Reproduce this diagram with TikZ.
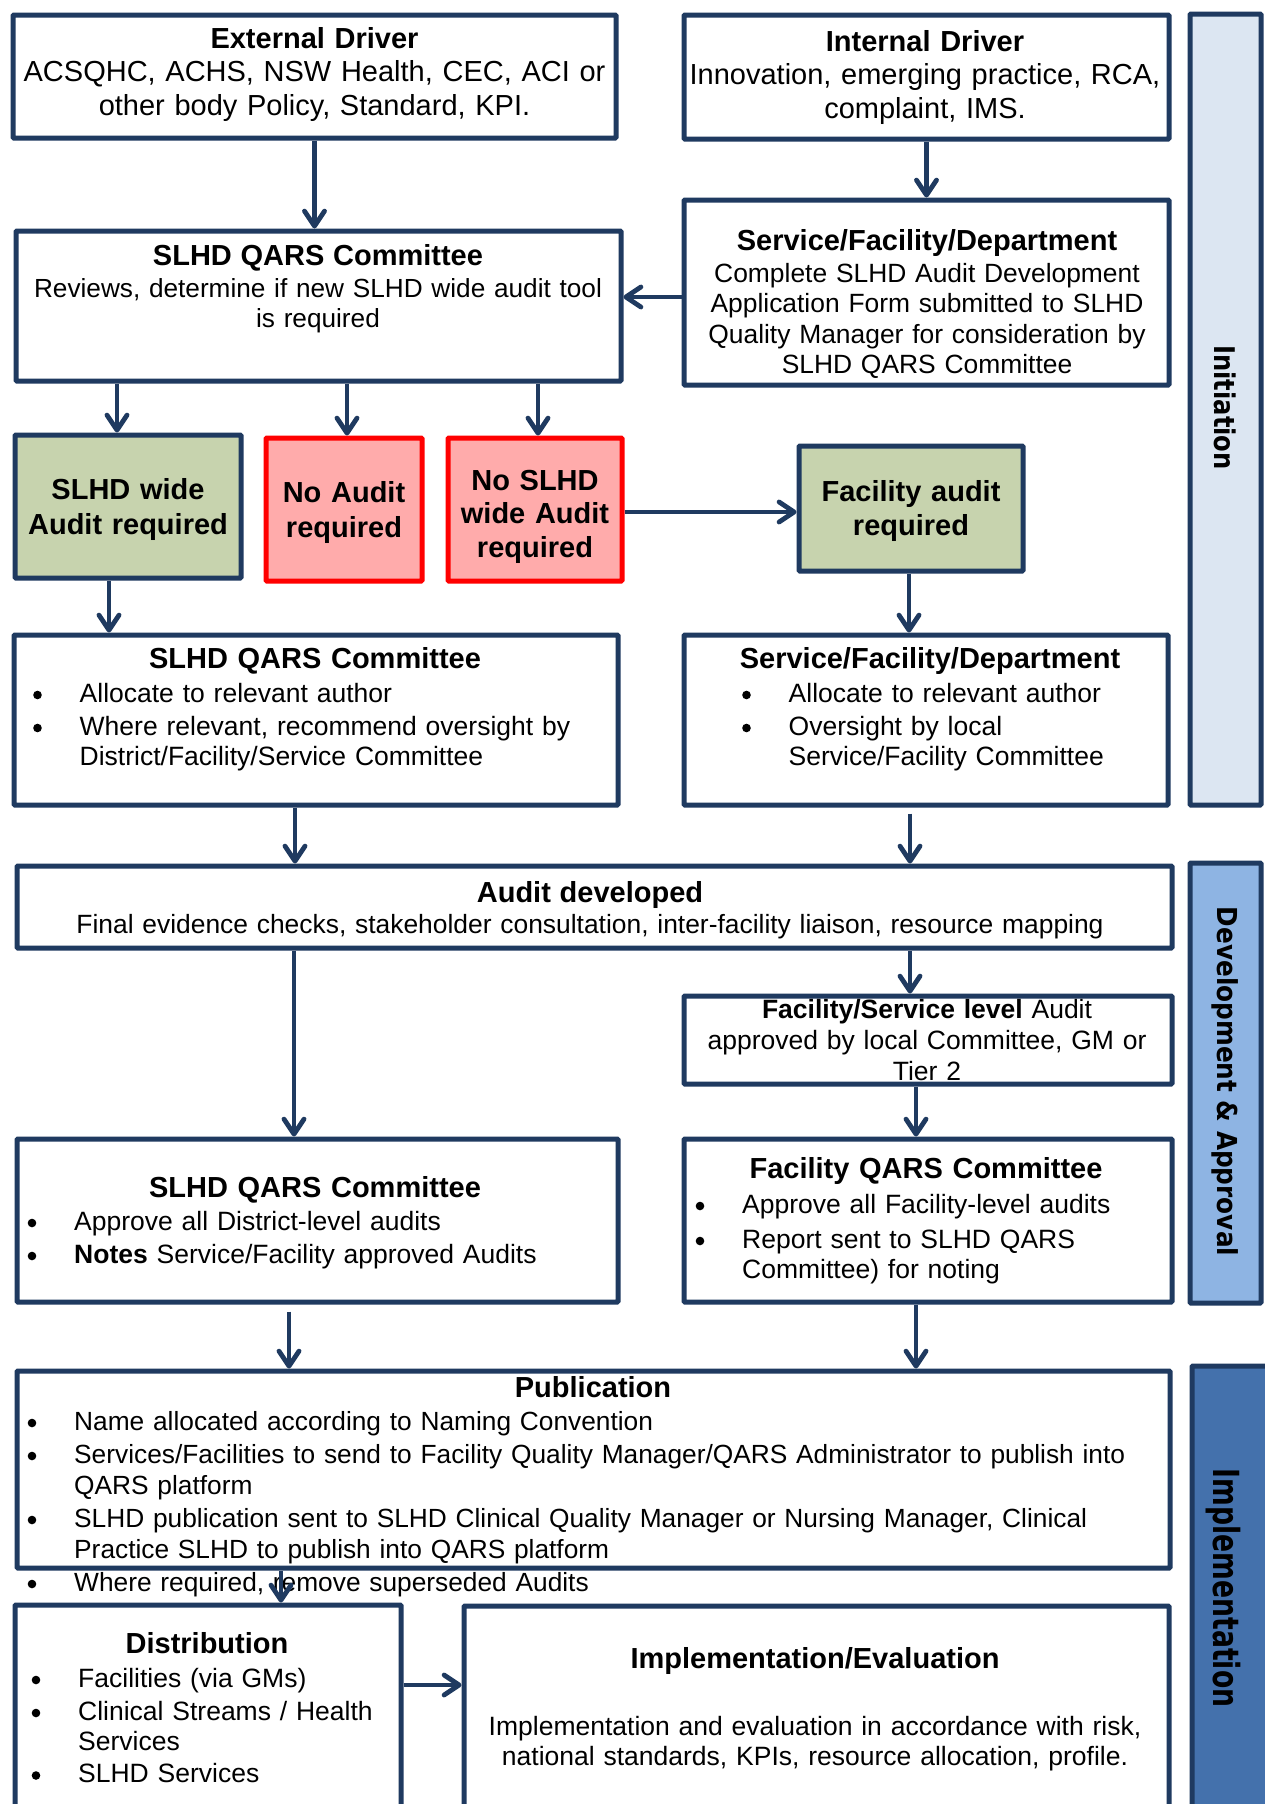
\documentclass[tikz,border=0pt]{standalone}
\usepackage{fontspec}
\setmainfont{Liberation Sans}
\newfontfamily\bandfont{DejaVu Sans}
\usepackage{graphicx}
\usetikzlibrary{arrows.meta,calc}
\definecolor{navy}{HTML}{1F3A60}
\definecolor{greenfill}{HTML}{C7D3AE}
\definecolor{redfill}{HTML}{FFABAB}
\definecolor{redline}{HTML}{FF0000}
\definecolor{bandA}{HTML}{DCE6F2}
\definecolor{bandB}{HTML}{8EB4E3}
\definecolor{bandC}{HTML}{4471AC}
\newcommand{\myfs}[2]{\fontsize{#1}{#2}\selectfont}
\newcommand{\dotb}{\tikz[baseline=0pt]\fill[black] (0pt,7pt) circle (4.3pt);}
\newcommand{\bulx}{\makebox[46.5pt][l]{\dotb}}
\newcommand{\indx}{\hspace*{46.5pt}}
\newcommand{\mkbox}[6][]{%
  \pgfmathsetmacro\bw{#5-#3}\pgfmathsetmacro\bh{#6-#4}%
  \node[box,#1,minimum width=\bw pt,minimum height=\bh pt] (#2) at ({(#3+#5)/2},{(#4+#6)/2}) {};}
\tikzset{
  box/.style={draw=navy, line width=5pt, fill=white, inner sep=0pt, rounded corners=1pt},
  greenbox/.style={fill=greenfill},
  redbox/.style={draw=redline, fill=redfill},
  txt/.style={inner sep=0pt, anchor=base, align=center, text width=#1},
  txt/.default=600pt,
  ltxt/.style={inner sep=0pt, anchor=base west, align=left, text width=#1},
  ltxt/.default=1200pt,
  bandtxt/.style={inner sep=0pt, anchor=base, rotate=-90},
  arr/.style={draw=navy, line width=4.8pt, -{Straight Barb[length=15pt,width=20pt,round]}},
}
\begin{document}
\begin{tikzpicture}[x=1pt,y=-1pt]
\useasboundingbox (0,0) rectangle (1265,1804);
\clip (0,0) rectangle (1265,1804);
\fill[white] (0,0) rectangle (1265,1804);

% bands
\mkbox[fill=bandA]{band1}{1190}{14}{1261}{805}
\mkbox[fill=bandB]{band2}{1190}{863}{1261}{1303}
\mkbox[fill=bandC]{band3}{1192}{1366}{1290}{1830}

% boxes
\mkbox{ext}{13}{15}{616}{138}
\mkbox{int}{684}{15}{1169}{139}
\mkbox{qars1}{16}{231}{621}{381}
\mkbox{svc1}{684}{200}{1169}{385}
\mkbox[greenbox]{wide}{15}{435}{241}{578}
\mkbox[redbox]{noaudit}{266}{438}{422}{581}
\mkbox[redbox]{noslhd}{448}{438}{622}{581}
\mkbox[greenbox]{facaud}{799}{446}{1023}{571}
\mkbox{qars2}{14}{635}{618}{805}
\mkbox{svc2}{684}{635}{1168}{805}
\mkbox{auddev}{17}{866}{1172}{948}
\mkbox{facserv}{684}{996}{1172}{1084}
\mkbox{qars3}{17}{1139}{618}{1302}
\mkbox{facq}{684}{1139}{1172}{1302}
\mkbox{pub}{17}{1371}{1170}{1568}
\mkbox{dist}{15}{1605}{401}{1830}
\mkbox{impl}{464}{1606}{1169}{1830}

% band labels
\node[bandtxt, font=\bandfont\bfseries\myfs{28.5}{30}] (band1-t) at (1214,407.5) {\scalebox{0.85}[1]{Initiation}};
\node[bandtxt, font=\bandfont\bfseries\myfs{27.5}{30}] (band2-t) at (1217,1081.5) {\scalebox{0.90}[1]{Development \& Approval}};
\node[bandtxt, font=\bandfont\bfseries\myfs{36}{38}] (band3-t) at (1213,1588) {\scalebox{0.74}[1]{Implementation}};

% texts
\node[txt, font=\myfs{29}{33.5}] (ext-t) at (314.5,48) {\textbf{External Driver}\\ACSQHC, ACHS, NSW Health, CEC, ACI or\\other body Policy, Standard, KPI.};
\node[txt, font=\myfs{29}{33.5}] (int-t) at (925,51) {\textbf{Internal Driver}\\Innovation, emerging practice, RCA,\\complaint, IMS.};
\node[txt, font=\myfs{26.2}{30}] (qars1-t) at (318,265) {{\myfs{29}{30}\bfseries SLHD QARS Committee}\\[2pt]Reviews, determine if new SLHD wide audit tool\\is required};
\node[txt, font=\myfs{26.4}{30.5}] (svc1-t) at (927,250) {{\myfs{29}{30.5}\bfseries Service/Facility/Department}\\[1.5pt]Complete SLHD Audit Development\\Application Form submitted to SLHD\\Quality Manager for consideration by\\SLHD QARS Committee};

\node[txt, font=\myfs{29}{35}\bfseries] (wide-t) at (128,499) {SLHD wide\\Audit required};
\node[txt, font=\myfs{29}{35}\bfseries] (noaudit-t) at (344,502) {No Audit\\required};
\node[txt, font=\myfs{29}{33.5}\bfseries] (noslhd-t) at (535,490) {No SLHD\\wide Audit\\required};
\node[txt, font=\myfs{29}{34.5}\bfseries] (facaud-t) at (911,501) {Facility audit\\required};

\node[txt, font=\myfs{29}{30}\bfseries] (qars2-t) at (315,668) {SLHD QARS Committee};
\node[ltxt, font=\myfs{26.5}{30.5}] (qars2-l) at (33,702) {\bulx Allocate to relevant author\\[2.5pt]\bulx Where relevant, recommend oversight by\\\indx District/Facility/Service Committee};
\node[txt, font=\myfs{29}{30}\bfseries] (svc2-t) at (930,668) {Service/Facility/Department};
\node[ltxt, font=\myfs{26.5}{30.5}] (svc2-l) at (742,702) {\bulx Allocate to relevant author\\[2.5pt]\bulx Oversight by local\\\indx Service/Facility Committee};

\node[txt=1100pt, font=\myfs{26.4}{31}] (auddev-t) at (590,902) {{\myfs{29}{31}\bfseries Audit developed}\\Final evidence checks, stakeholder consultation, inter-facility liaison, resource mapping};
\node[txt, font=\myfs{26.5}{31}] (facserv-t) at (927,1018) {\textbf{Facility/Service level} Audit\\approved by local Committee, GM or\\Tier 2};

\node[txt, font=\myfs{29}{30}\bfseries] (qars3-t) at (315,1197) {SLHD QARS Committee};
\node[ltxt, font=\myfs{26.5}{30.5}] (qars3-l) at (27.5,1230) {\bulx Approve all District-level audits\\[2.5pt]\bulx \textbf{Notes} Service/Facility approved Audits};
\node[txt, font=\myfs{29}{30}\bfseries] (facq-t) at (926,1178) {Facility QARS Committee};
\node[ltxt, font=\myfs{26.5}{30.5}] (facq-l) at (695.5,1213) {\bulx Approve all Facility-level audits\\[4.5pt]\bulx Report sent to SLHD QARS\\\indx Committee) for noting};

\node[txt, font=\myfs{29}{30}\bfseries] (pub-t) at (593,1397) {Publication};
\node[ltxt, font=\myfs{26.3}{31}] (pub-l) at (27.5,1430) {\bulx Name allocated according to Naming Convention\\[2pt]\bulx Services/Facilities to send to Facility Quality Manager/QARS Administrator to publish into\\\indx QARS platform\\[2pt]\bulx SLHD publication sent to SLHD Clinical Quality Manager or Nursing Manager, Clinical\\\indx Practice SLHD to publish into QARS platform\\[2pt]\bulx Where required, remove superseded Audits};

\node[txt, font=\myfs{29}{30}\bfseries] (dist-t) at (207,1653) {Distribution};
\node[ltxt, font=\myfs{26.5}{30.5}] (dist-l) at (31.5,1687) {\bulx Facilities (via GMs)\\[2.5pt]\bulx Clinical Streams / Health\\\indx Services\\[1.5pt]\bulx SLHD Services};
\node[txt=700pt, font=\myfs{26.5}{30}] (impl-t) at (815,1668) {{\myfs{29}{30}\bfseries Implementation/Evaluation}\\[37pt]Implementation and evaluation in accordance with risk,\\national standards, KPIs, resource allocation, profile.};

% connectors
\draw[arr] (ext.south) -- (ext.south |- qars1.north);
\draw[arr] (int.south) -- (int.south |- svc1.north);
\draw[arr] ([yshift=-4.5pt]svc1.west) -- ([yshift=-4.5pt]svc1.west -| qars1.east);
\draw[arr] ([xshift=-11pt]wide.north |- qars1.south) -- ([xshift=-11pt]wide.north);
\draw[arr] ([xshift=3pt]noaudit.north |- qars1.south) -- ([xshift=3pt]noaudit.north);
\draw[arr] ([xshift=3pt]noslhd.north |- qars1.south) -- ([xshift=3pt]noslhd.north);
\draw[arr] ([yshift=-2.5pt]noslhd.east) -- ([yshift=-2.5pt]noslhd.east -| facaud.west);
\draw[arr] ([xshift=-19pt]wide.south) -- ([xshift=-19pt]wide.south |- qars2.north);
\draw[arr] ([xshift=-2pt]facaud.south) -- ([xshift=-2pt]facaud.south |- svc2.north);
\draw[arr] ([xshift=-21pt]qars2.south) -- ([xshift=-21pt]qars2.south |- auddev.north);
\draw[arr, shorten <=6pt] ([xshift=-16pt]svc2.south) -- ([xshift=-16pt]svc2.south |- auddev.north);
\draw[arr] ([xshift=-23.5pt]qars3.north |- auddev.south) -- ([xshift=-23.5pt]qars3.north);
\draw[arr] ([xshift=-18pt]facserv.north |- auddev.south) -- ([xshift=-18pt]facserv.north);
\draw[arr] ([xshift=-12pt]facserv.south) -- ([xshift=-12pt]facserv.south |- facq.north);
\draw[arr, shorten <=7pt] ([xshift=-28.5pt]qars3.south) -- ([xshift=-28.5pt]qars3.south |- pub.north);
\draw[arr] ([xshift=-12pt]facq.south) -- ([xshift=-12pt]facq.south |- pub.north);
\draw[arr] ([xshift=73pt]dist.north |- pub.south) -- ([xshift=73pt]dist.north);
\draw[arr] ([yshift=32.5pt]dist.east) -- ([yshift=32.5pt]dist.east -| impl.west);
\end{tikzpicture}
\end{document}
